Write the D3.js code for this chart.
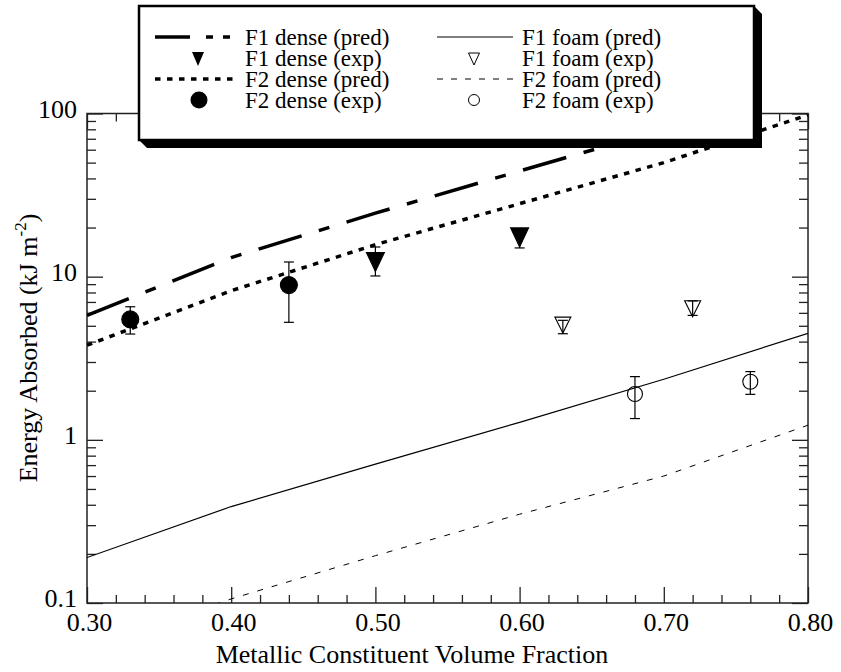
<!DOCTYPE html>
<html>
<head>
<meta charset="utf-8">
<script src="https://cdn.jsdelivr.net/npm/d3@7"></script>
<style>
  body { margin: 0; background: #fff; }
  svg { display: block; font-family: "Liberation Serif", "Times New Roman", serif; }
</style>
</head>
<body>
<div id="chart"></div>
<script>
// ── data ─────────────────────────────────────────────
const xTicks = [0.30, 0.40, 0.50, 0.60, 0.70, 0.80];
const yTicks = [0.1, 1, 10, 100];
const yTickLabels = ["0.1", "1", "10", "100"];

// predicted curves (model), sampled at predX
const predX = [0.30, 0.40, 0.50, 0.60, 0.70, 0.80];
const f1DensePred = [5.8, 13.1, 24.5, 44.4, 80, 150];
const f2DensePred = [3.8, 8.2, 15.7, 28, 50, 98];
const f1FoamPred = [0.19, 0.39, 0.71, 1.28, 2.35, 4.5];
const f2FoamPred = [0.052, 0.106, 0.195, 0.35, 0.60, 1.23];

// experiments: x, value, low, high
const f1DenseExpX = [0.50, 0.60];
const f1DenseExp = [12.3, 17.4];
const f1DenseLo = [10.1, 15.0];
const f1DenseHi = [15.2, 19.0];

const f2DenseExpX = [0.33, 0.44];
const f2DenseExp = [5.47, 8.88];
const f2DenseLo = [4.45, 5.25];
const f2DenseHi = [6.54, 12.3];

const f1FoamExpX = [0.63, 0.72];
const f1FoamExp = [5.05, 6.36];
const f1FoamLo = [4.47, 5.79];
const f1FoamHi = [5.4, 7.1];

const f2FoamExpX = [0.68, 0.76];
const f2FoamExp = [1.91, 2.27];
const f2FoamLo = [1.35, 1.9];
const f2FoamHi = [2.44, 2.62];

const legendLeft = ["F1 dense (pred)", "F1 dense (exp)", "F2 dense (pred)", "F2 dense (exp)"];
const legendRight = ["F1 foam (pred)", "F1 foam (exp)", "F2 foam (pred)", "F2 foam (exp)"];

// ── layout ───────────────────────────────────────────
const width = 841, height = 672;
const margin = { left: 87, top: 113.5, right: 33, bottom: 69 };
const innerWidth = width - margin.left - margin.right;
const innerHeight = height - margin.top - margin.bottom;
const font = '"Liberation Serif", "Times New Roman", serif';

const svg = d3.select("#chart").append("svg")
  .attr("width", width).attr("height", height);

const xScale = d3.scaleLinear().domain([0.30, 0.80]).range([0, innerWidth]);
const yScale = d3.scaleLog().domain([0.1, 100]).range([innerHeight, 0]);

const inner = svg.append("g")
  .attr("transform", `translate(${margin.left},${margin.top})`);

svg.append("defs").append("clipPath").attr("id", "plotClip")
  .append("rect").attr("width", innerWidth).attr("height", innerHeight);

// ── ticks ────────────────────────────────────────────
const xMinor = d3.range(0.30, 0.8001, 0.02).filter(v => Math.abs(v * 10 - Math.round(v * 10)) > 1e-6);
const yMinor = [];
[0.1, 1, 10].forEach(d => d3.range(2, 10).forEach(k => yMinor.push(d * k)));

const axisStyle = g => {
  g.select(".domain").remove();
  g.selectAll(".tick line").attr("stroke", "#222").attr("stroke-width", 1.3);
  g.selectAll("text").attr("font-family", font).attr("font-size", 26).attr("fill", "#000");
};

// bottom
inner.append("g").attr("transform", `translate(0,${innerHeight})`)
  .call(d3.axisBottom(xScale).tickValues(xTicks).tickFormat(d3.format(".2f"))
    .tickSizeInner(-16).tickSizeOuter(0).tickPadding(10))
  .call(axisStyle)
  .call(g => g.selectAll("text").attr("dx", 2));
inner.append("g").attr("transform", `translate(0,${innerHeight})`)
  .call(d3.axisBottom(xScale).tickValues(xMinor).tickFormat("").tickSizeInner(-8).tickSizeOuter(0))
  .call(axisStyle);
// top
inner.append("g")
  .call(d3.axisTop(xScale).tickValues(xTicks).tickFormat("").tickSizeInner(-16).tickSizeOuter(0))
  .call(axisStyle);
inner.append("g")
  .call(d3.axisTop(xScale).tickValues(xMinor).tickFormat("").tickSizeInner(-8).tickSizeOuter(0))
  .call(axisStyle);
// left
inner.append("g")
  .call(d3.axisLeft(yScale).tickValues(yTicks).tickFormat((d, i) => yTickLabels[i])
    .tickSizeInner(-16).tickSizeOuter(0).tickPadding(10))
  .call(axisStyle)
  .call(g => g.selectAll("text").attr("dy", "0.14em"));
inner.append("g")
  .call(d3.axisLeft(yScale).tickValues(yMinor).tickFormat("").tickSizeInner(-9).tickSizeOuter(0))
  .call(axisStyle);
// right
inner.append("g").attr("transform", `translate(${innerWidth},0)`)
  .call(d3.axisRight(yScale).tickValues(yTicks).tickFormat("").tickSizeInner(-16).tickSizeOuter(0))
  .call(axisStyle);
inner.append("g").attr("transform", `translate(${innerWidth},0)`)
  .call(d3.axisRight(yScale).tickValues(yMinor).tickFormat("").tickSizeInner(-9).tickSizeOuter(0))
  .call(axisStyle);

// frame
inner.append("rect")
  .attr("width", innerWidth).attr("height", innerHeight)
  .attr("fill", "none").attr("stroke", "#222").attr("stroke-width", 1.5);

// ── predicted lines ──────────────────────────────────
const lineGen = d3.line().x(d => xScale(d[0])).y(d => yScale(d[1]));
const predSeries = [
  { values: f1DensePred, width: 3.5, dash: "45,18,11,18" },
  { values: f2DensePred, width: 3.5, dash: "5.5,6.5" },
  { values: f1FoamPred, width: 1.2, dash: null },
  { values: f2FoamPred, width: 1, dash: "6,9" }
];
const lines = inner.append("g").attr("clip-path", "url(#plotClip)");
predSeries.forEach(s => {
  lines.append("path")
    .datum(predX.map((x, i) => [x, s.values[i]]))
    .attr("d", lineGen)
    .attr("fill", "none")
    .attr("stroke", "#000")
    .attr("stroke-width", s.width)
    .attr("stroke-dasharray", s.dash);
});

// ── experimental points ─────────────────────────────
const triDown = (w, h) => `M${-w / 2},${-h / 2}L${w / 2},${-h / 2}L0,${h / 2}Z`;
const expSeries = [
  { xs: f1DenseExpX, v: f1DenseExp, lo: f1DenseLo, hi: f1DenseHi, shape: "tri", fill: "#000" },
  { xs: f2DenseExpX, v: f2DenseExp, lo: f2DenseLo, hi: f2DenseHi, shape: "circle", fill: "#000" },
  { xs: f1FoamExpX, v: f1FoamExp, lo: f1FoamLo, hi: f1FoamHi, shape: "tri", fill: "none" },
  { xs: f2FoamExpX, v: f2FoamExp, lo: f2FoamLo, hi: f2FoamHi, shape: "circle", fill: "none" }
];
expSeries.forEach(s => {
  const pts = s.xs.map((x, i) => ({ x, v: s.v[i], lo: s.lo[i], hi: s.hi[i] }));
  const g = inner.append("g");
  // error bars
  const eb = g.selectAll(".eb").data(pts).join("g").attr("stroke", "#000").attr("stroke-width", 1.2);
  eb.append("line")
    .attr("x1", d => xScale(d.x)).attr("x2", d => xScale(d.x))
    .attr("y1", d => yScale(d.lo)).attr("y2", d => yScale(d.hi));
  eb.append("line")
    .attr("x1", d => xScale(d.x) - 5).attr("x2", d => xScale(d.x) + 5)
    .attr("y1", d => yScale(d.lo)).attr("y2", d => yScale(d.lo));
  eb.append("line")
    .attr("x1", d => xScale(d.x) - 5).attr("x2", d => xScale(d.x) + 5)
    .attr("y1", d => yScale(d.hi)).attr("y2", d => yScale(d.hi));
  // markers
  if (s.shape === "tri") {
    g.selectAll(".m").data(pts).join("path")
      .attr("transform", d => `translate(${xScale(d.x)},${yScale(d.v)})`)
      .attr("d", s.fill === "none" ? triDown(16, 16) : triDown(18, 19))
      .attr("fill", s.fill).attr("stroke", "#000").attr("stroke-width", 1.1);
  } else {
    g.selectAll(".m").data(pts).join("circle")
      .attr("cx", d => xScale(d.x)).attr("cy", d => yScale(d.v))
      .attr("r", s.fill === "none" ? 7.5 : 8.5)
      .attr("fill", s.fill).attr("stroke", "#000").attr("stroke-width", 1.1);
  }
});

// ── axis titles ──────────────────────────────────────
svg.append("text")
  .attr("x", 412).attr("y", 663)
  .attr("text-anchor", "middle")
  .attr("font-size", 26)
  .text("Metallic Constituent Volume Fraction");

const yTitle = svg.append("text")
  .attr("transform", "translate(37,348) rotate(-90)")
  .attr("text-anchor", "middle")
  .attr("font-size", 26);
yTitle.append("tspan").text("Energy Absorbed (kJ m");
yTitle.append("tspan").attr("font-size", 17).attr("dy", -11).text("-2");
yTitle.append("tspan").attr("dy", 11).text(")");

// ── legend ───────────────────────────────────────────
const lg = svg.append("g");
lg.append("path")
  .attr("d", "M139,140L147,148L762,148L762,14L754,6Z")
  .attr("fill", "#000");
lg.append("rect")
  .attr("x", 139).attr("y", 6).attr("width", 615).attr("height", 134)
  .attr("fill", "#fff").attr("stroke", "#000").attr("stroke-width", 2.5);

const rowBase = [45, 66, 87, 108];
const leftText = 245, rightText = 522;
legendLeft.forEach((t, i) => {
  lg.append("text").attr("x", leftText).attr("y", rowBase[i]).attr("font-size", 23).text(t);
});
legendRight.forEach((t, i) => {
  lg.append("text").attr("x", rightText).attr("y", rowBase[i]).attr("font-size", 23).text(t);
});
const sample = (x1, x2, y, s) => lg.append("line")
  .attr("x1", x1).attr("x2", x2).attr("y1", y).attr("y2", y)
  .attr("stroke", "#000").attr("stroke-width", s.width).attr("stroke-dasharray", s.dash);
sample(155, 237, rowBase[0] - 8, { width: 3.5, dash: "35,16,7,10,7,10" });
sample(155, 237, rowBase[2] - 8, predSeries[1]);
sample(437, 513, rowBase[0] - 8, predSeries[2]);
sample(437, 513, rowBase[2] - 8, { width: 1, dash: "6,8" });

lg.append("path").attr("transform", `translate(198,${rowBase[1] - 7})`)
  .attr("d", triDown(12, 14)).attr("fill", "#000");
lg.append("circle").attr("cx", 199).attr("cy", rowBase[3] - 8).attr("r", 8.5).attr("fill", "#000");
lg.append("path").attr("transform", `translate(474,${rowBase[1] - 7})`)
  .attr("d", triDown(11, 12)).attr("fill", "none").attr("stroke", "#000").attr("stroke-width", 1);
lg.append("circle").attr("cx", 474).attr("cy", rowBase[3] - 8).attr("r", 5.5)
  .attr("fill", "none").attr("stroke", "#000").attr("stroke-width", 1);
</script>
</body>
</html>
